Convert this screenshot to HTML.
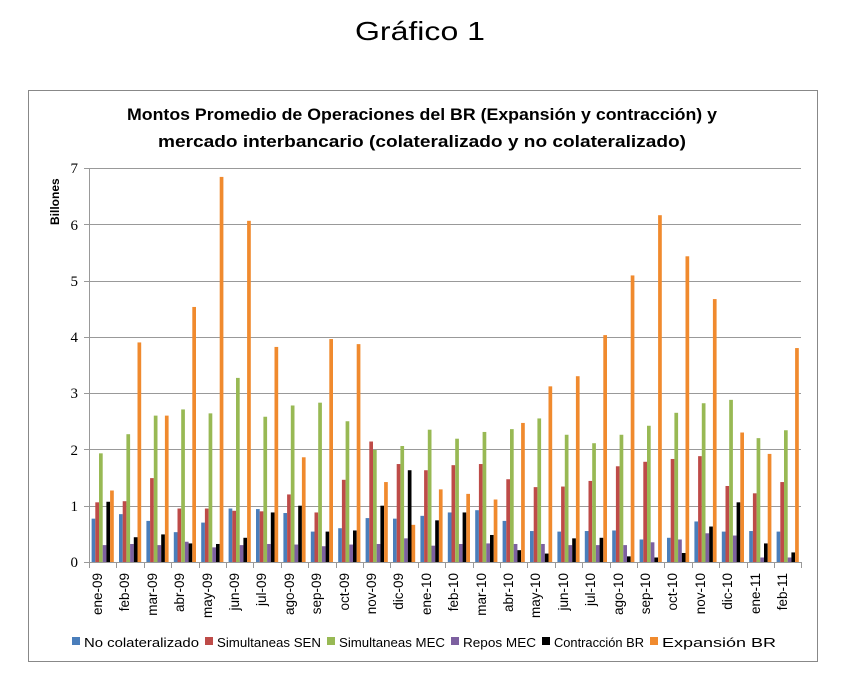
<!DOCTYPE html>
<html><head><meta charset="utf-8"><style>
html,body{margin:0;padding:0;background:#fff;}
svg{display:block;}
</style></head><body>
<svg id="s" width="841" height="692" xmlns="http://www.w3.org/2000/svg" font-family="Liberation Sans, sans-serif">
<text x="420" y="40" font-size="26" text-anchor="middle" textLength="130" lengthAdjust="spacingAndGlyphs">Gráfico 1</text>
<rect x="28.5" y="90.5" width="789" height="571" fill="#fff" stroke="#888" stroke-width="1"/>
<text x="422" y="120" font-size="17" font-weight="bold" text-anchor="middle" textLength="590" lengthAdjust="spacingAndGlyphs">Montos Promedio de Operaciones del BR (Expansión y contracción) y</text>
<text x="422" y="147" font-size="17" font-weight="bold" text-anchor="middle" textLength="528" lengthAdjust="spacingAndGlyphs">mercado interbancario (colateralizado y no colateralizado)</text>
<text transform="translate(59,225) rotate(-90)" font-size="12" font-weight="bold">Billones</text>
<g id="grid" stroke="#999" stroke-width="1"></g>
<g id="ylab" font-family="Liberation Serif, serif" font-size="15" text-anchor="end">
<text x="78" y="567">0</text><text x="78" y="511">1</text><text x="78" y="455">2</text><text x="78" y="398">3</text><text x="78" y="342">4</text><text x="78" y="286">5</text><text x="78" y="230">6</text><text x="78" y="173">7</text>
</g>
<g id="bars"></g>
<g id="xlab" font-size="13.5" text-anchor="end">
<text transform="translate(102,573) rotate(-90)">ene-09</text>
<text transform="translate(129,573) rotate(-90)">feb-09</text>
<text transform="translate(157,573) rotate(-90)">mar-09</text>
<text transform="translate(184,573) rotate(-90)">abr-09</text>
<text transform="translate(212,573) rotate(-90)">may-09</text>
<text transform="translate(239,573) rotate(-90)">jun-09</text>
<text transform="translate(266,573) rotate(-90)">jul-09</text>
<text transform="translate(294,573) rotate(-90)">ago-09</text>
<text transform="translate(321,573) rotate(-90)">sep-09</text>
<text transform="translate(349,573) rotate(-90)">oct-09</text>
<text transform="translate(376,573) rotate(-90)">nov-09</text>
<text transform="translate(403,573) rotate(-90)">dic-09</text>
<text transform="translate(431,573) rotate(-90)">ene-10</text>
<text transform="translate(458,573) rotate(-90)">feb-10</text>
<text transform="translate(486,573) rotate(-90)">mar-10</text>
<text transform="translate(513,573) rotate(-90)">abr-10</text>
<text transform="translate(540,573) rotate(-90)">may-10</text>
<text transform="translate(568,573) rotate(-90)">jun-10</text>
<text transform="translate(595,573) rotate(-90)">jul-10</text>
<text transform="translate(623,573) rotate(-90)">ago-10</text>
<text transform="translate(650,573) rotate(-90)">sep-10</text>
<text transform="translate(677,573) rotate(-90)">oct-10</text>
<text transform="translate(705,573) rotate(-90)">nov-10</text>
<text transform="translate(732,573) rotate(-90)">dic-10</text>
<text transform="translate(760,573) rotate(-90)">ene-11</text>
<text transform="translate(787,573) rotate(-90)">feb-11</text>
</g>
<g font-size="13">
<rect x="72" y="637" width="8" height="8" fill="#4a7ebb"/><text x="84" y="647" textLength="115" lengthAdjust="spacingAndGlyphs">No colateralizado</text>
<rect x="205" y="637" width="8" height="8" fill="#be4b48"/><text x="217" y="647" textLength="104" lengthAdjust="spacingAndGlyphs">Simultaneas SEN</text>
<rect x="327" y="637" width="8" height="8" fill="#98b954"/><text x="339" y="647" textLength="106" lengthAdjust="spacingAndGlyphs">Simultaneas MEC</text>
<rect x="451" y="637" width="8" height="8" fill="#7d60a0"/><text x="463" y="647" textLength="73" lengthAdjust="spacingAndGlyphs">Repos MEC</text>
<rect x="542" y="637" width="8" height="8" fill="#000"/><text x="554" y="647" textLength="90" lengthAdjust="spacingAndGlyphs">Contracción BR</text>
<rect x="650" y="637" width="8" height="8" fill="#f08a2e"/><text x="662" y="647" textLength="114" lengthAdjust="spacingAndGlyphs">Expansión BR</text>
</g>
</svg>
<script>
var d=[[0.77,1.06,1.93,0.3,1.07,1.27],[0.85,1.08,2.27,0.32,0.44,3.9],[0.73,1.49,2.6,0.3,0.49,2.6],[0.53,0.95,2.71,0.36,0.33,4.53],[0.7,0.95,2.64,0.26,0.32,6.84],[0.95,0.91,3.27,0.3,0.43,6.06],[0.94,0.9,2.58,0.32,0.88,3.82],[0.87,1.2,2.78,0.31,1.0,1.86],[0.54,0.88,2.83,0.28,0.54,3.96],[0.6,1.46,2.5,0.31,0.56,3.87],[0.78,2.14,1.99,0.32,1.0,1.42],[0.77,1.74,2.06,0.42,1.63,0.66],[0.82,1.63,2.35,0.29,0.74,1.29],[0.88,1.72,2.19,0.32,0.88,1.21],[0.92,1.74,2.31,0.33,0.48,1.11],[0.73,1.47,2.36,0.32,0.21,2.47],[0.55,1.33,2.55,0.32,0.15,3.12],[0.54,1.34,2.26,0.3,0.42,3.3],[0.55,1.44,2.11,0.3,0.43,4.03],[0.56,1.7,2.26,0.3,0.1,5.09],[0.4,1.78,2.42,0.35,0.08,6.16],[0.43,1.83,2.65,0.4,0.16,5.43],[0.72,1.88,2.82,0.51,0.63,4.67],[0.54,1.35,2.88,0.47,1.06,2.3],[0.55,1.22,2.2,0.08,0.33,1.92],[0.54,1.42,2.34,0.08,0.17,3.8]];
var c=["#4a7ebb","#be4b48","#98b954","#7d60a0","#000","#f08a2e"];
var ns="http://www.w3.org/2000/svg",g=document.getElementById("grid"),b=document.getElementById("bars");
function el(p,t,a){var e=document.createElementNS(ns,t);for(var k in a)e.setAttribute(k,a[k]);p.appendChild(e);return e;}
var y0=562,u=56.3,x0=89,cw=27.4;
for(var i=1;i<=7;i++){var y=Math.round(y0-i*u)+0.5;el(g,"line",{x1:x0,x2:801,y1:y,y2:y});}
el(g,"line",{x1:x0+0.5,x2:x0+0.5,y1:168,y2:y0});
el(g,"line",{x1:84,x2:801,y1:y0+0.5,y2:y0+0.5});
for(var i=0;i<=26;i++){var x=Math.round(x0+i*cw)+0.5;el(g,"line",{x1:x,x2:x,y1:y0,y2:y0+6});}
for(var i=0;i<7;i++){var y=Math.round(y0-i*u-u)+0.5;el(g,"line",{x1:84,x2:x0,y1:y,y2:y});}
var bw=3.7;
d.forEach(function(r,i){var gx=x0+i*cw+(cw-6*bw)/2;r.forEach(function(v,j){el(b,"rect",{x:gx+j*bw,y:y0-v*u,width:bw,height:v*u,fill:c[j]});});});
</script>
</body></html>
